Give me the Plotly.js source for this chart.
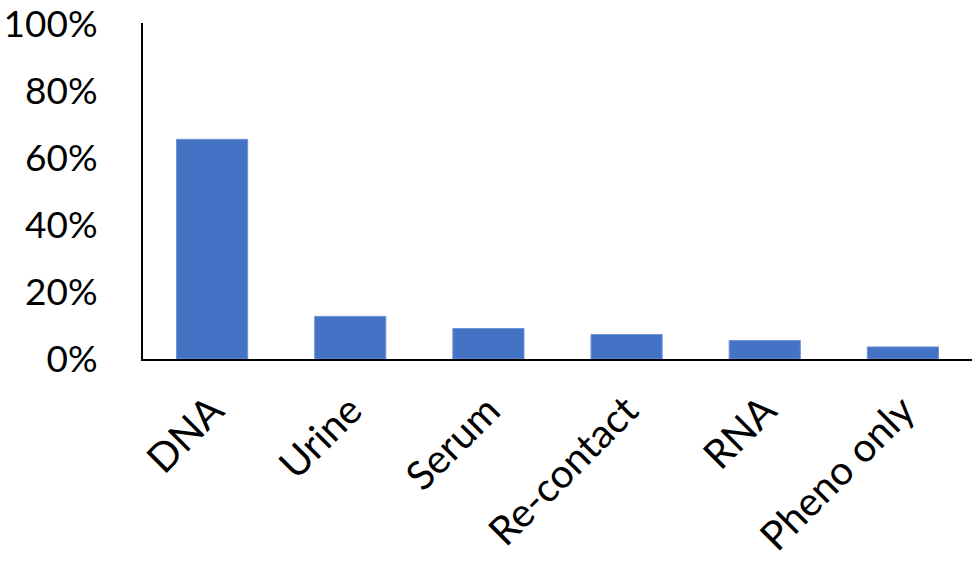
<!DOCTYPE html>
<html>
<head>
<meta charset="utf-8">
<script src="https://cdn.plot.ly/plotly-3.0.1.min.js"></script>
<style>html,body{margin:0;padding:0;background:#fff;}#chart{width:976px;height:564px;}</style>
</head>
<body>
<div id="chart"></div>
<script>
const categories = ["DNA", "Urine", "Serum", "Re-contact", "RNA", "Pheno only"];
const shares = [0.655, 0.127, 0.091, 0.073, 0.055, 0.036];
const yTickValues = [0, 0.2, 0.4, 0.6, 0.8, 1.0];
const yTickLabels = ["0%", "20%", "40%", "60%", "80%", "100%"];

const trace = {
  type: "bar",
  x: categories,
  y: shares,
  marker: {color: "#4472C4", line: {color: "#6f93d6", width: 1}},
  hoverinfo: "none"
};

const layout = {
  width: 976,
  height: 564,
  margin: {l: 143, r: 4, t: 23, b: 205},
  paper_bgcolor: "#fff",
  plot_bgcolor: "#fff",
  bargap: 0.485,
  showlegend: false,
  font: {family: "Lato, 'Open Sans', sans-serif", size: 37, color: "#000"},
  xaxis: {
    type: "category",
    tickangle: -45,
    showline: true,
    linecolor: "#000",
    linewidth: 2,
    ticks: "outside",
    ticklen: 10,
    tickcolor: "rgba(0,0,0,0)",
    showgrid: false,
    zeroline: false,
    tickfont: {size: 40},
    ticklabeloverflow: "allow",
    fixedrange: true
  },
  yaxis: {
    range: [0, 1.002],
    tickvals: yTickValues,
    ticktext: yTickLabels,
    showline: true,
    linecolor: "#000",
    linewidth: 2,
    ticks: "outside",
    ticklen: 36,
    tickcolor: "rgba(0,0,0,0)",
    showgrid: false,
    zeroline: false,
    tickfont: {size: 37},
    ticklabeloverflow: "allow",
    fixedrange: true
  }
};

Plotly.newPlot("chart", [trace], layout, {displayModeBar: false, staticPlot: true});
</script>
</body>
</html>
